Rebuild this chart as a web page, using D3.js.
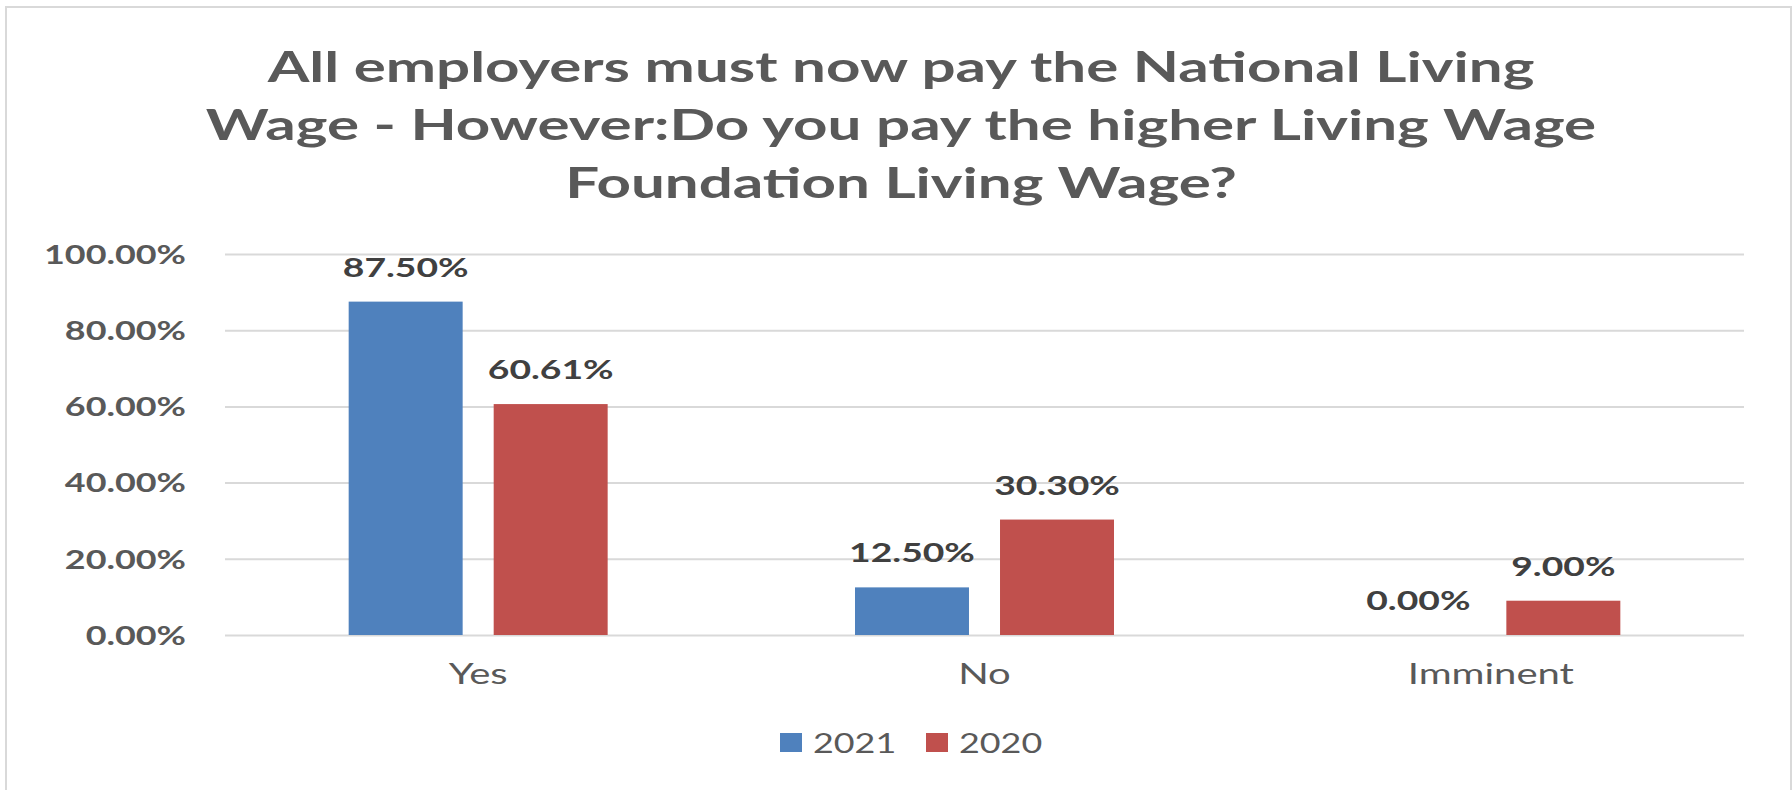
<!DOCTYPE html>
<html lang="en">
<head>
<meta charset="UTF-8">
<title>Living Wage survey</title>
<script src="https://d3js.org/d3.v7.min.js"></script>
<style>
    html, body { margin: 0; padding: 0; background: #fff; }
    svg { display: block; }
    text { font-family: Lato, "Open Sans", sans-serif; }
</style>
</head>
<body>
<svg id="chart"></svg>
<script>
    const categories = ["Yes", "No", "Imminent"];
    const seriesNames = ["2021", "2020"];
    const values2021 = [87.50, 12.50, 0.00];
    const values2020 = [60.61, 30.30, 9.00];
    const yTicks = [0, 20, 40, 60, 80, 100];
    const titleLines = [
        "All employers must now pay the National Living",
        "Wage - However:Do you pay the higher Living Wage",
        "Foundation Living Wage?"
    ];

    const width = 1792, height = 790;
    const SX = 1.38; // the source picture is stretched sideways
    const colors = {"2021": "#4f81bd", "2020": "#c0504d"};
    const plot = {left: 225, right: 1744, top: 254, bottom: 635};
    const pct = d => d3.format(".2f")(d) + "%";

    const rows = categories.map((c, i) => ({
        category: c,
        values: [
            {series: "2021", value: values2021[i]},
            {series: "2020", value: values2020[i]}
        ]
    }));

    function stretched(sel, x, y, sx) {
        sel.attr("transform", `translate(${x},${y}) scale(${sx || SX},1)`);
    }

    const svg = d3.select("#chart").attr("width", width).attr("height", height);
    svg.append("rect").attr("width", width).attr("height", height).attr("fill", "#fff");
    svg.append("rect")
        .attr("x", 6).attr("y", 7).attr("width", 1785).attr("height", 800)
        .attr("fill", "none").attr("stroke", "#d9d9d9").attr("stroke-width", 2);

    // title
    titleLines.forEach((line, i) => {
        svg.append("text").text(line)
            .attr("text-anchor", "middle")
            .attr("font-size", 42).attr("font-weight", 700).attr("fill", "#595959")
            .call(stretched, 901, 82 + i * 58, 1.43);
    });

    const y = d3.scaleLinear().domain([0, 100]).range([plot.bottom, plot.top]);
    const x0 = d3.scaleBand().domain(categories).range([plot.left, plot.right])
        .paddingInner(0.4885).paddingOuter(0.24425);
    const x1 = d3.scaleBand().domain(seriesNames).range([0, x0.bandwidth()])
        .paddingInner(0.214).paddingOuter(0);

    // gridlines + y labels
    const yAxis = svg.append("g").attr("transform", `translate(${plot.left},0)`)
        .call(d3.axisLeft(y).tickValues(yTicks).tickSize(-(plot.right - plot.left)).tickFormat(pct));
    yAxis.attr("font-family", null).attr("font-size", null);
    yAxis.select(".domain").remove();
    yAxis.selectAll(".tick line").attr("stroke", "#d9d9d9").attr("stroke-width", 2);
    yAxis.selectAll(".tick text")
        .attr("x", null).attr("dy", "0.36em")
        .attr("font-size", 26).attr("font-weight", 700).attr("fill", "#595959")
        .attr("transform", `translate(-39,0) scale(${SX},1)`);

    // bars
    const groups = svg.selectAll(".cat")
        .data(rows)
        .enter()
        .append("g")
        .attr("class", "cat")
        .attr("transform", d => `translate(${x0(d.category)},0)`);

    groups.selectAll("rect")
        .data(d => d.values)
        .enter()
        .append("rect")
        .attr("x", d => x1(d.series))
        .attr("width", x1.bandwidth())
        .attr("y", d => y(d.value))
        .attr("height", d => y(0) - y(d.value))
        .attr("fill", d => colors[d.series]);

    groups.selectAll(".val")
        .data(d => d.values)
        .enter()
        .append("text")
        .attr("class", "val")
        .text(d => pct(d.value))
        .attr("text-anchor", "middle")
        .attr("font-size", 27).attr("font-weight", 700).attr("fill", "#404040")
        .each(function(d) {
            d3.select(this).call(stretched, x1(d.series) + x1.bandwidth() / 2, y(d.value) - 25);
        });

    // category labels
    svg.selectAll(".cat-label")
        .data(categories)
        .enter()
        .append("text")
        .attr("class", "cat-label")
        .text(d => d)
        .attr("text-anchor", "middle")
        .attr("font-size", 29).attr("fill", "#595959")
        .each(function(d) {
            d3.select(this).call(stretched, x0(d) + x0.bandwidth() / 2, 684);
        });

    // legend
    const legend = svg.selectAll(".legend")
        .data(seriesNames)
        .enter()
        .append("g")
        .attr("class", "legend")
        .attr("transform", (d, i) => `translate(${780 + i * 146},733)`);
    legend.append("rect")
        .attr("width", 22).attr("height", 19)
        .attr("fill", d => colors[d]);
    legend.append("text")
        .text(d => d)
        .attr("font-size", 26).attr("fill", "#595959")
        .call(stretched, 33, 20);
</script>
</body>
</html>
